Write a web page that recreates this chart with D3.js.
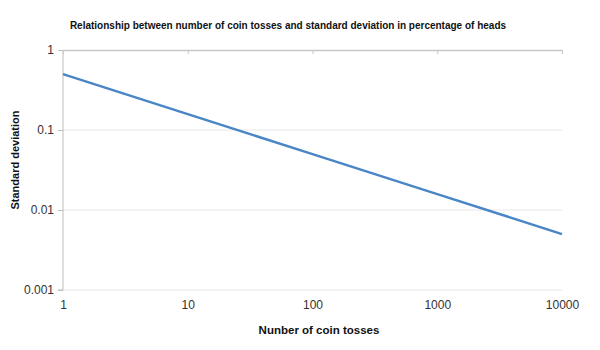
<!DOCTYPE html>
<html>
<head>
<meta charset="utf-8">
<script src="https://cdn.jsdelivr.net/npm/d3@7"></script>
<style>
body { margin: 0; background: #fff; }
svg { display: block; font-family: "Liberation Sans", Arial, sans-serif; }
</style>
</head>
<body>
<svg id="chart" width="600" height="350"></svg>
<script>
const tosses = [1, 10, 100, 1000, 10000];
const stdDev = [0.5, 0.158, 0.05, 0.0158, 0.005];
const xTicks = [1, 10, 100, 1000, 10000];
const yTicks = [0.001, 0.01, 0.1, 1];
const xTickLabels = ["1", "10", "100", "1000", "10000"];
const yTickLabels = ["0.001", "0.01", "0.1", "1"];
const chartTitle = "Relationship between number of coin tosses and standard deviation in percentage of heads";
const xTitle = "Nunber of coin tosses";
const yTitle = "Standard deviation";

(function () {
const svg = d3.select("#chart");
const mLeft = 63, mRight = 562, mTop = 50, mBottom = 290;

const x = d3.scaleLog().domain([1, 10000]).range([mLeft, mRight]);
const y = d3.scaleLog().domain([0.001, 1]).range([mBottom, mTop]);

// gridlines
svg.append("g").selectAll("line").data(yTicks.slice(0, 3)).join("line")
  .attr("x1", mLeft).attr("x2", mRight)
  .attr("y1", d => y(d)).attr("y2", d => y(d))
  .attr("stroke", "#e8e8e8").attr("stroke-width", 1);

// y axis
const yAxis = d3.axisLeft(y).tickValues(yTicks)
  .tickFormat((d, i) => yTickLabels[i]).tickSize(5).tickPadding(4);
const gy = svg.append("g").attr("transform", `translate(${mLeft},0)`).call(yAxis);
gy.select(".domain").attr("stroke", "#bdbdbd").attr("d", `M-5,${mBottom}H0V${mTop}`);
gy.selectAll(".tick line").attr("stroke", "#bdbdbd");
gy.selectAll(".tick text").attr("fill", "#333").attr("font-size", 12)
  .attr("font-family", "Liberation Sans, Arial, sans-serif");

// x axis line at top with ticks down
const xAxisTop = d3.axisBottom(x).tickValues(xTicks).tickFormat("").tickSize(4).tickSizeOuter(0);
const gxt = svg.append("g").attr("transform", `translate(0,${mTop})`).call(xAxisTop);
gxt.select(".domain").attr("stroke", "#c8c8c8").attr("stroke-width", 1.5);
gxt.selectAll(".tick line").attr("stroke", "#c8c8c8");

// x tick labels at bottom
const xAxisBottom = d3.axisBottom(x).tickValues(xTicks)
  .tickFormat((d, i) => xTickLabels[i]).tickSize(0).tickPadding(10);
const gxb = svg.append("g").attr("transform", `translate(0,${mBottom})`).call(xAxisBottom);
gxb.select(".domain").remove();
gxb.selectAll(".tick text").attr("fill", "#333").attr("font-size", 12)
  .attr("font-family", "Liberation Sans, Arial, sans-serif");

// line
const line = d3.line().x(d => x(d[0])).y(d => y(d[1]));
svg.append("path").datum(tosses.map((t, i) => [t, stdDev[i]]))
  .attr("d", line).attr("fill", "none")
  .attr("stroke", "#4a86c6").attr("stroke-width", 2.5);

// titles
svg.append("text").attr("x", 288).attr("y", 29).attr("text-anchor", "middle")
  .attr("font-size", 10).attr("font-weight", "bold").attr("fill", "#111").text(chartTitle);
svg.append("text").attr("x", 319).attr("y", 334).attr("text-anchor", "middle")
  .attr("font-size", 11.5).attr("font-weight", "bold").attr("fill", "#111").text(xTitle);
svg.append("text").attr("transform", "translate(19,160) rotate(-90)").attr("text-anchor", "middle")
  .attr("font-size", 11).attr("font-weight", "bold").attr("fill", "#111").text(yTitle);
})();
</script>
</body>
</html>
